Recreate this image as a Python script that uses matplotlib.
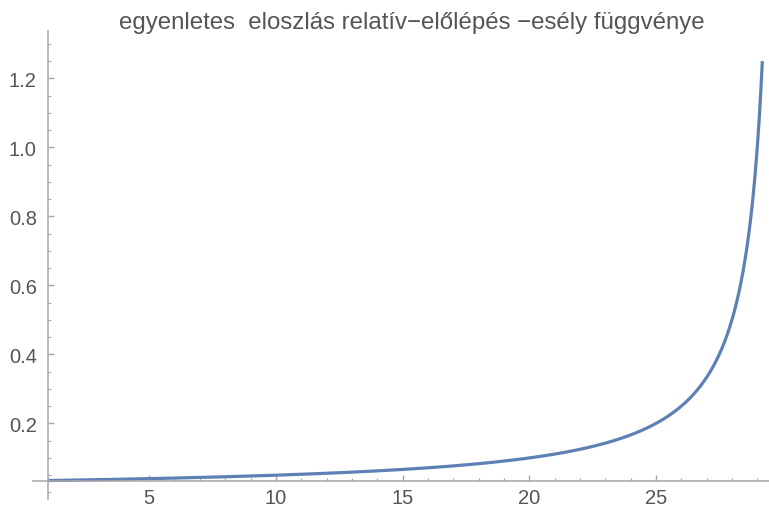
import numpy as np
import matplotlib.pyplot as plt
from matplotlib.ticker import MultipleLocator, FixedLocator

plt.rcParams['font.family'] = ['Liberation Sans', 'DejaVu Sans']

# uniform distribution on [a, b], hazard function drawn over [x_start, x_end]
a = 0.0
b = 30.0
x_start = 1.0
x_end = 29.2

title = "egyenletes  eloszlás relatív\u2212előlépés \u2212esély függvénye"
x_major = [5, 10, 15, 20, 25]
y_major = [0.2, 0.4, 0.6, 0.8, 1.0, 1.2]

x = np.linspace(x_start, x_end, 2000)
h = (1.0 / (b - a)) / ((b - x) / (b - a))

fig = plt.figure(figsize=(7.69, 5.10), dpi=100)
ax = fig.add_axes([0.0429, 0.0196, 0.957, 0.9176])

ax.plot(x, h, color='#5E81B5', lw=2.3, solid_capstyle='butt')

ax.set_xlim(0.41, 29.46)
ax.set_ylim(-0.019, 1.337)

axis_gray = '#a6a6a6'
text_gray = '#555555'
for side in ['top', 'right']:
    ax.spines[side].set_visible(False)
ax.spines['left'].set_position(('data', x_start))
ax.spines['bottom'].set_position(('data', h[0]))
for side in ['left', 'bottom']:
    ax.spines[side].set_color(axis_gray)
    ax.spines[side].set_linewidth(1.1)

ax.xaxis.set_major_locator(FixedLocator(x_major))
ax.xaxis.set_minor_locator(MultipleLocator(1))
ax.yaxis.set_major_locator(FixedLocator(y_major))
ax.yaxis.set_minor_locator(MultipleLocator(0.05))
ax.set_yticklabels([f"{v:.1f}" for v in y_major])

ax.tick_params(axis='both', which='both', direction='in', color=axis_gray,
               labelcolor=text_gray, labelsize=14.5)
ax.tick_params(axis='both', which='major', length=4.5, width=1.0)
ax.tick_params(axis='both', which='minor', length=2.5, width=0.8)
ax.tick_params(axis='x', pad=5.5)
ax.tick_params(axis='y', pad=8)

fig.text(0.535, 0.955, title, ha='center', va='center', fontsize=17.3, color=text_gray)

fig.savefig('out.png', dpi=100)
